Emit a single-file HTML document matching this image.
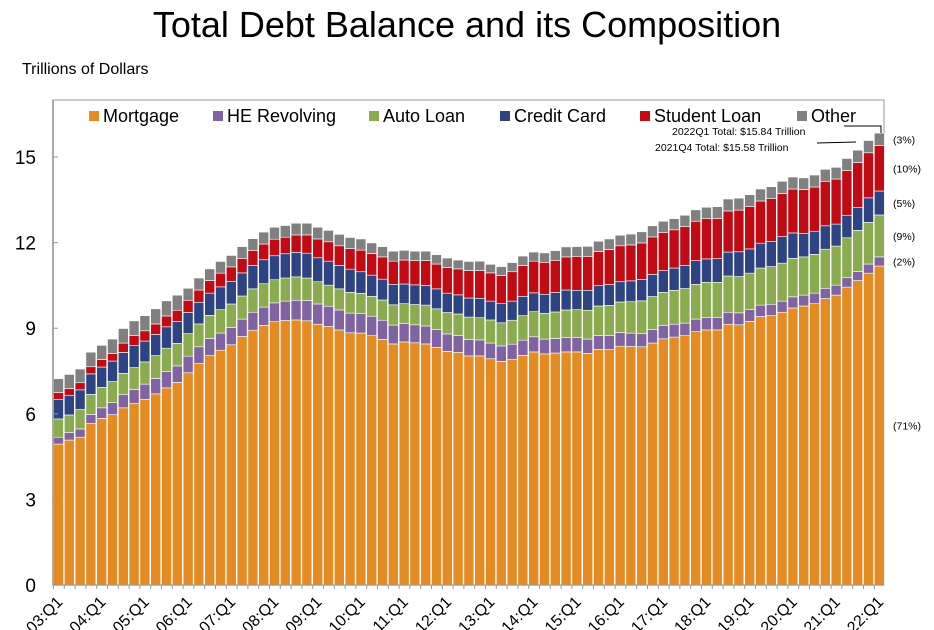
<!DOCTYPE html>
<html><head><meta charset="utf-8">
<style>
body{margin:0;background:#fff;font-family:"Liberation Sans",Arial,sans-serif;}
svg{display:block}
</style></head>
<body>
<svg id="chart" width="934" height="630" viewBox="0 0 934 630">
<text x="467" y="37" text-anchor="middle" font-size="36" fill="#000">Total Debt Balance and its Composition</text>
<text x="22" y="74" font-size="16" fill="#000">Trillions of Dollars</text>
<rect x="53" y="100" width="831" height="485" fill="none" stroke="#bbb" stroke-width="1.5"/>
<g id="bars"></g>
<g id="axes"></g>
<g id="legend"></g>
<g id="notes"></g>
</svg>
<script>
const categories = [];
for (let y = 3; y <= 22; y++) for (let q = 1; q <= 4; q++) { if (y === 22 && q > 1) break; categories.push((y < 10 ? '0' + y : '' + y) + ':Q' + q); }
const seriesNames = ['Mortgage','HE Revolving','Auto Loan','Credit Card','Student Loan','Other'];
const seriesColors = ['#e48b24','#8064a2','#8aab4f','#2e4482','#c00a14','#808080'];
const mortgage = [4.94,5.08,5.18,5.66,5.84,5.97,6.21,6.36,6.51,6.70,6.91,7.10,7.44,7.76,8.04,8.23,8.42,8.71,8.93,9.10,9.23,9.27,9.29,9.26,9.14,9.06,8.94,8.84,8.83,8.74,8.61,8.45,8.52,8.49,8.45,8.33,8.19,8.15,8.03,8.03,7.93,7.84,7.90,8.05,8.17,8.10,8.13,8.17,8.17,8.12,8.26,8.25,8.37,8.36,8.35,8.48,8.63,8.69,8.74,8.88,8.94,8.94,9.14,9.12,9.24,9.41,9.44,9.56,9.71,9.78,9.86,10.04,10.16,10.44,10.67,10.93,11.18];
const heRevolving = [0.24,0.26,0.29,0.32,0.37,0.42,0.46,0.49,0.53,0.54,0.57,0.58,0.58,0.59,0.60,0.60,0.61,0.61,0.63,0.64,0.66,0.68,0.69,0.71,0.71,0.71,0.70,0.69,0.68,0.68,0.67,0.66,0.64,0.63,0.63,0.62,0.61,0.59,0.58,0.56,0.55,0.54,0.54,0.53,0.53,0.52,0.51,0.51,0.51,0.50,0.49,0.49,0.48,0.47,0.47,0.47,0.46,0.45,0.44,0.44,0.44,0.43,0.42,0.42,0.41,0.40,0.40,0.39,0.39,0.38,0.37,0.36,0.35,0.33,0.32,0.32,0.32];
const autoLoan = [0.64,0.62,0.68,0.70,0.72,0.74,0.75,0.77,0.78,0.80,0.82,0.79,0.79,0.80,0.81,0.82,0.82,0.81,0.82,0.82,0.81,0.81,0.82,0.79,0.78,0.74,0.74,0.73,0.71,0.70,0.71,0.71,0.70,0.71,0.73,0.73,0.75,0.76,0.78,0.78,0.81,0.81,0.84,0.86,0.88,0.90,0.93,0.96,0.97,1.01,1.03,1.06,1.07,1.10,1.14,1.16,1.17,1.19,1.21,1.22,1.23,1.24,1.27,1.27,1.28,1.30,1.32,1.33,1.35,1.34,1.36,1.37,1.37,1.40,1.44,1.46,1.47];
const creditCard = [0.69,0.69,0.69,0.72,0.71,0.72,0.73,0.77,0.73,0.74,0.75,0.77,0.74,0.76,0.78,0.80,0.79,0.81,0.82,0.84,0.84,0.85,0.86,0.87,0.84,0.84,0.82,0.81,0.76,0.74,0.73,0.72,0.69,0.69,0.69,0.70,0.68,0.67,0.67,0.68,0.66,0.67,0.67,0.68,0.66,0.67,0.68,0.70,0.68,0.70,0.71,0.73,0.71,0.73,0.75,0.78,0.76,0.78,0.81,0.83,0.82,0.83,0.84,0.87,0.85,0.87,0.88,0.93,0.89,0.82,0.81,0.82,0.77,0.79,0.80,0.86,0.84];
const studentLoan = [0.24,0.24,0.25,0.25,0.26,0.26,0.33,0.35,0.36,0.37,0.38,0.39,0.43,0.43,0.44,0.48,0.51,0.51,0.53,0.55,0.58,0.58,0.61,0.64,0.66,0.68,0.69,0.72,0.76,0.76,0.78,0.81,0.84,0.85,0.87,0.87,0.90,0.91,0.96,0.97,0.99,0.99,1.03,1.08,1.11,1.12,1.13,1.16,1.19,1.19,1.20,1.23,1.26,1.26,1.28,1.31,1.34,1.34,1.36,1.38,1.41,1.41,1.44,1.46,1.49,1.48,1.50,1.51,1.54,1.54,1.55,1.56,1.58,1.57,1.58,1.58,1.59];
const other = [0.48,0.49,0.48,0.51,0.50,0.51,0.51,0.52,0.53,0.53,0.53,0.53,0.42,0.42,0.41,0.41,0.40,0.41,0.41,0.42,0.42,0.41,0.41,0.41,0.41,0.40,0.40,0.39,0.39,0.37,0.36,0.35,0.34,0.33,0.33,0.33,0.33,0.31,0.32,0.33,0.30,0.31,0.32,0.33,0.32,0.33,0.34,0.35,0.34,0.35,0.36,0.37,0.37,0.38,0.39,0.39,0.39,0.39,0.40,0.40,0.40,0.41,0.42,0.42,0.41,0.42,0.42,0.43,0.42,0.41,0.42,0.42,0.41,0.42,0.43,0.43,0.44];
const yTicks = [0,3,6,9,12,15];
const shareLabels = ['(71%)','(2%)','(9%)','(5%)','(10%)','(3%)'];
const noteLabels = ['2022Q1 Total: $15.84 Trillion','2021Q4 Total: $15.58 Trillion'];

const series = [mortgage, heRevolving, autoLoan, creditCard, studentLoan, other];
const NS = 'http://www.w3.org/2000/svg';
const x0 = 53.5, step = 10.8, bw = 10;
const yBase = 585, yPer = 28.53;
const xScale = i => x0 + i * step;
const yScale = v => yBase - v * yPer;
function mk(tag, attrs, parent) {
  const e = document.createElementNS(NS, tag);
  for (const k in attrs) e.setAttribute(k, attrs[k]);
  parent.appendChild(e); return e;
}
const gb = document.getElementById('bars');
const ga = document.getElementById('axes');
const gl = document.getElementById('legend');
const gn = document.getElementById('notes');

categories.forEach((c, i) => {
  let cum = 0;
  series.forEach((s, k) => {
    const v = s[i];
    const r = mk('rect', {x: xScale(i), y: yScale(cum + v), width: bw, height: v * yPer, fill: seriesColors[k], stroke: '#fff', 'stroke-width': 0.6}, gb);
    
    
    cum += v;
  });
  const tk = mk('line', {x1: xScale(i), x2: xScale(i), y1: yBase, y2: yBase + 4, stroke: '#999'}, ga);
  
  
  if (i % 4 === 0) {
    const tx = xScale(i) + 10, ty = yBase + 18;
    const t = mk('text', {x: tx, y: ty, 'font-size': 16, 'text-anchor': 'end', transform: `rotate(-45 ${tx} ${ty})`, fill: '#000'}, ga);
    t.textContent = c;
    
    
  }
});
const ax = mk('line', {x1: 53, x2: 53, y1: 100, y2: yBase, stroke: '#999', 'stroke-width': 1.5}, ga);


const bx = mk('line', {x1: 53, x2: 884, y1: yBase, y2: yBase, stroke: '#999', 'stroke-width': 1}, ga);


yTicks.forEach(v => {
  const l = mk('line', {x1: 53, x2: 58, y1: yScale(v), y2: yScale(v), stroke: '#999'}, ga);
  
  
  const t = mk('text', {x: 36, y: yScale(v) + 7, 'font-size': 19, 'text-anchor': 'end', fill: '#000'}, ga);
  t.textContent = v;
  
  
});
const legX = [89, 213, 369, 500, 640, 797];
seriesNames.forEach((n, k) => {
  const r = mk('rect', {x: legX[k], y: 111, width: 10, height: 10, fill: seriesColors[k]}, gl);
  
  
  const t = mk('text', {x: legX[k] + 14, y: 122, 'font-size': 18, fill: '#000'}, gl);
  t.textContent = n;
  
  
});
const last = categories.length - 1;
let cum = 0;
series.forEach((s, k) => {
  let mid = yScale(cum + s[last] / 2);
  cum += s[last];
  const t = mk('text', {x: 893, y: mid + 4, 'font-size': 10.5, fill: '#000'}, gn);
  t.textContent = shareLabels[k];
  
  
});
const n1 = mk('text', {x: 672, y: 135, 'font-size': 10.5, fill: '#000'}, gn);
n1.textContent = noteLabels[0];


const n2 = mk('text', {x: 655, y: 151, 'font-size': 10.5, fill: '#000'}, gn);
n2.textContent = noteLabels[1];


const p1 = mk('polyline', {points: '844,126 881,126 881,133', fill: 'none', stroke: '#000', 'stroke-width': 1}, gn);


const p2 = mk('line', {x1: 817, x2: 856, y1: 143, y2: 142, stroke: '#000', 'stroke-width': 1}, gn);


</script>
</body></html>
